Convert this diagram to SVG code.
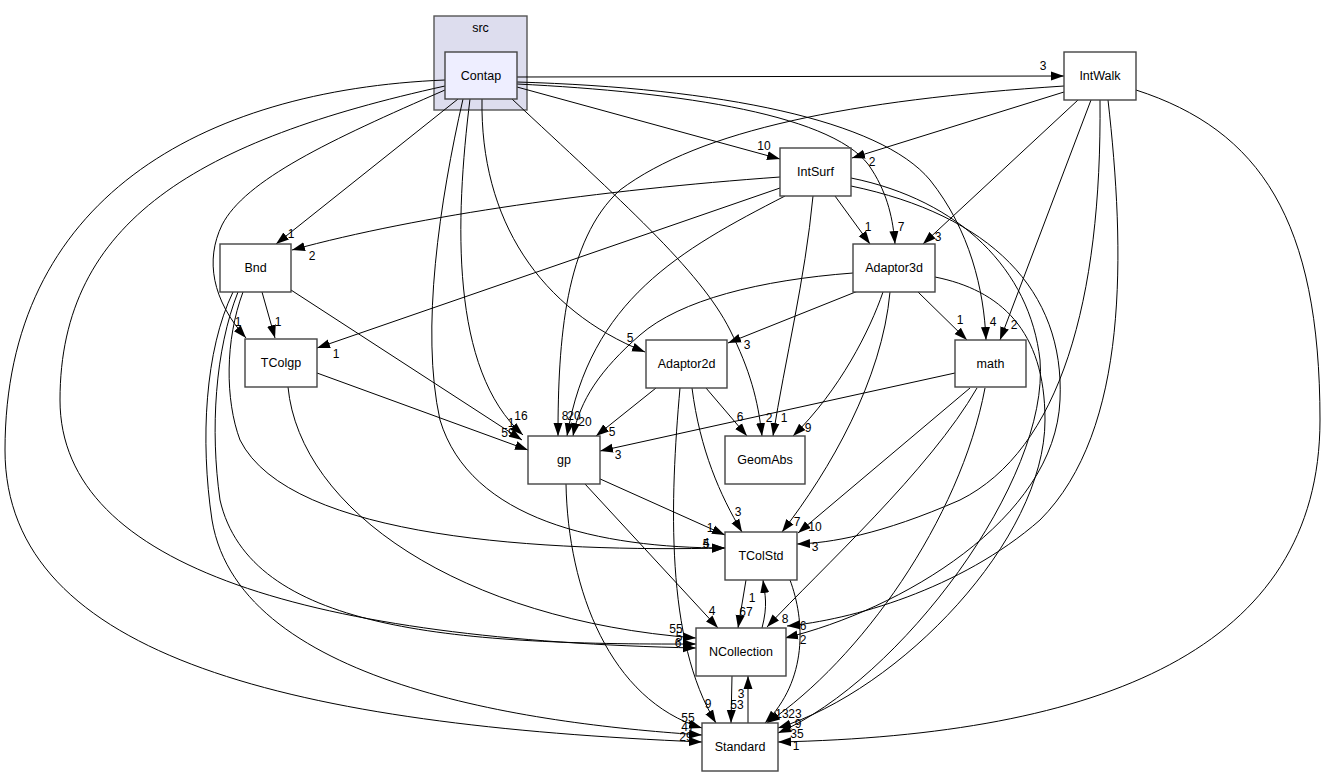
<svg xmlns="http://www.w3.org/2000/svg" width="1323" height="777" viewBox="0 0 1323 777">
<style>
text{font-family:"Liberation Sans",Arial,sans-serif;fill:#000}
.n{fill:#fff;stroke:#444;stroke-width:1.4}
.nt{font-size:12.5px;text-anchor:middle}
.e{fill:none;stroke:#000;stroke-width:1;marker-end:url(#a)}
.l{font-size:12px;text-anchor:middle}
</style>
<defs>
<marker id="a" viewBox="0 0 13 10" refX="13" refY="5" markerWidth="13" markerHeight="10" markerUnits="userSpaceOnUse" orient="auto"><path d="M0,0.5 L13,5 L0,9.5 z" fill="#000"/></marker>
</defs>
<rect width="1323" height="777" fill="#fff"/>
<g id="cluster_src">
<rect x="434" y="16" width="93" height="94" fill="#ddddee" stroke="#555" stroke-width="1.4"/>
<text class="nt" x="480.5" y="32">src</text>
</g>
<g id="edges">
<path class="e" d="M517,77 L1064,76"/><text class="l" x="1043" y="70">3</text>
<path class="e" d="M517,87 L780,159"/><text class="l" x="764" y="150">10</text>
<path class="e" d="M517,84 C680,92 840,115 872,170 C888,195 893,220 895,244"/><text class="l" x="901" y="231">7</text>
<path class="e" d="M517,82 C720,88 880,120 930,180 C970,230 984,290 986,340"/><text class="l" x="993" y="326">4</text>
<path class="e" d="M458,99 L276,244"/><text class="l" x="291" y="238">1</text>
<path class="e" d="M445,90 C330,140 245,180 222,225 C205,260 212,300 246,338"/><text class="l" x="238" y="326">1</text>
<path class="e" d="M470,99 C455,220 450,370 523,435"/><text class="l" x="521" y="420">16</text>
<path class="e" d="M482,99 C480,220 540,310 645,352"/><text class="l" x="630" y="342">5</text>
<path class="e" d="M512,99 C620,200 700,270 730,330 C750,370 758,400 762,436"/><text class="l" x="769" y="422">2</text>
<path class="e" d="M463,99 C440,200 420,330 440,420 C470,520 600,548 725,548"/><text class="l" x="706" y="548">5</text>
<path class="e" d="M445,86 C200,140 60,220 60,400 C60,570 320,640 696,648"/><text class="l" x="679" y="641">5</text>
<path class="e" d="M445,80 C200,90 5,200 5,450 C5,660 300,725 702,742"/><text class="l" x="686" y="741">29</text>
<path class="e" d="M1064,92 L852,158"/><text class="l" x="872" y="166">2</text>
<path class="e" d="M1064,86 C850,100 700,130 620,190 C565,240 558,340 558,436"/><text class="l" x="565" y="420">8</text>
<path class="e" d="M1078,100 L923,244"/><text class="l" x="938" y="241">3</text>
<path class="e" d="M1091,100 L1000,340"/><text class="l" x="1014" y="329">2</text>
<path class="e" d="M1100,100 C1102,300 1060,450 960,500 C880,535 830,543 797,544"/><text class="l" x="815" y="551">3</text>
<path class="e" d="M1108,100 C1125,250 1130,430 1040,520 C960,590 850,620 787,626"/><text class="l" x="803" y="630">6</text>
<path class="e" d="M1136,90 C1260,130 1320,220 1320,420 C1320,650 1100,735 778,742"/><text class="l" x="796" y="750">1</text>
<path class="e" d="M780,177 C600,190 420,215 292,250"/><text class="l" x="312" y="260">2</text>
<path class="e" d="M780,188 L317,348"/><text class="l" x="336" y="358">1</text>
<path class="e" d="M785,196 C680,250 590,300 567,436"/><text class="l" x="574" y="420">20</text>
<path class="e" d="M813,196 C805,280 785,360 773,436"/><text class="l" x="784" y="422">1</text>
<path class="e" d="M835,196 L870,244"/><text class="l" x="868" y="231">1</text>
<path class="e" d="M851,186 C990,215 1065,290 1060,400 C1055,520 900,610 785,638"/><text class="l" x="803" y="644">2</text>
<path class="e" d="M851,178 C960,200 1030,270 1040,360 C1050,480 900,680 778,733"/><text class="l" x="797" y="738">35</text>
<path class="e" d="M858,291 L728,343"/><text class="l" x="747" y="349">3</text>
<path class="e" d="M853,273 C760,280 680,300 640,335 C600,370 580,400 573,436"/><text class="l" x="585" y="426">20</text>
<path class="e" d="M918,292 L967,340"/><text class="l" x="960" y="324">1</text>
<path class="e" d="M883,292 C870,330 840,390 793,436"/><text class="l" x="808" y="432">9</text>
<path class="e" d="M890,292 C882,380 830,470 782,532"/><text class="l" x="797" y="526">7</text>
<path class="e" d="M935,277 C1000,290 1045,330 1045,420 C1045,540 900,690 778,728"/><text class="l" x="798" y="728">9</text>
<path class="e" d="M656,388 L596,436"/><text class="l" x="612" y="436">5</text>
<path class="e" d="M706,388 L747,436"/><text class="l" x="740" y="421">6</text>
<path class="e" d="M692,388 C700,450 720,495 742,532"/><text class="l" x="738" y="516">3</text>
<path class="e" d="M680,388 C670,500 665,640 716,723"/><text class="l" x="708" y="708">9</text>
<path class="e" d="M955,373 L600,451"/><text class="l" x="618" y="459">3</text>
<path class="e" d="M970,388 L798,533"/><text class="l" x="815" y="531">10</text>
<path class="e" d="M977,388 C930,470 820,570 767,627"/><text class="l" x="785" y="623">8</text>
<path class="e" d="M985,388 C960,520 860,660 767,723"/><text class="l" x="795" y="718">23</text>
<path class="e" d="M262,292 L275,338"/><text class="l" x="278" y="326">1</text>
<path class="e" d="M291,290 L522,440"/><text class="l" x="511" y="427">1</text>
<path class="e" d="M243,292 C225,340 225,400 240,440 C290,540 550,552 725,548"/><text class="l" x="706" y="547">4</text>
<path class="e" d="M238,292 C215,350 210,430 220,500 C250,630 450,645 696,644"/><text class="l" x="678" y="647">6</text>
<path class="e" d="M233,292 C205,350 200,440 212,520 C240,690 550,725 702,735"/><text class="l" x="688" y="731">47</text>
<path class="e" d="M317,373 L528,450"/><text class="l" x="508" y="437">59</text>
<path class="e" d="M288,387 C300,510 460,620 696,638"/><text class="l" x="676" y="633">55</text>
<path class="e" d="M598,478 L725,535"/><text class="l" x="710" y="532">1</text>
<path class="e" d="M585,484 L718,628"/><text class="l" x="712" y="615">4</text>
<path class="e" d="M566,484 C568,590 610,700 702,728"/><text class="l" x="688" y="722">55</text>
<path class="e" d="M746,580 L738,628"/><text class="l" x="746" y="616">67</text>
<path class="e" d="M762,628 C768,605 765,595 763,580"/><text class="l" x="752" y="602">1</text>
<path class="e" d="M790,580 C805,620 808,680 765,723"/><text class="l" x="782" y="718">13</text>
<path class="e" d="M732,676 L731,723"/><text class="l" x="737" y="709">53</text>
<path class="e" d="M748,723 L748,676"/><text class="l" x="741" y="698">3</text>
</g>
<g id="Contap"><rect x="445" y="52" width="72" height="47" fill="#eeeeff" stroke="#444" stroke-width="1.4"/><text class="nt" x="481" y="80">Contap</text></g>
<g id="IntWalk"><rect class="n" x="1064" y="52" width="72" height="48"/><text class="nt" x="1100" y="80">IntWalk</text></g>
<g id="IntSurf"><rect class="n" x="780" y="148" width="71" height="48"/><text class="nt" x="815.5" y="176">IntSurf</text></g>
<g id="Bnd"><rect class="n" x="220" y="244" width="71" height="48"/><text class="nt" x="255.5" y="272">Bnd</text></g>
<g id="TColgp"><rect class="n" x="245" y="339" width="72" height="48"/><text class="nt" x="281" y="367">TColgp</text></g>
<g id="gp"><rect class="n" x="528" y="436" width="72" height="48"/><text class="nt" x="564" y="464">gp</text></g>
<g id="Adaptor2d"><rect class="n" x="646" y="340" width="81" height="48"/><text class="nt" x="686.5" y="368">Adaptor2d</text></g>
<g id="GeomAbs"><rect class="n" x="725" y="436" width="80" height="48"/><text class="nt" x="765" y="464">GeomAbs</text></g>
<g id="Adaptor3d"><rect class="n" x="853" y="244" width="82" height="48"/><text class="nt" x="894" y="272">Adaptor3d</text></g>
<g id="math"><rect class="n" x="955" y="340" width="71" height="47"/><text class="nt" x="990.5" y="368">math</text></g>
<g id="TColStd"><rect class="n" x="725" y="532" width="72" height="48"/><text class="nt" x="761" y="560">TColStd</text></g>
<g id="NCollection"><rect class="n" x="696" y="628" width="90" height="48"/><text class="nt" x="741" y="656">NCollection</text></g>
<g id="Standard"><rect class="n" x="702" y="723" width="76" height="48"/><text class="nt" x="740" y="751">Standard</text></g>
</svg>
